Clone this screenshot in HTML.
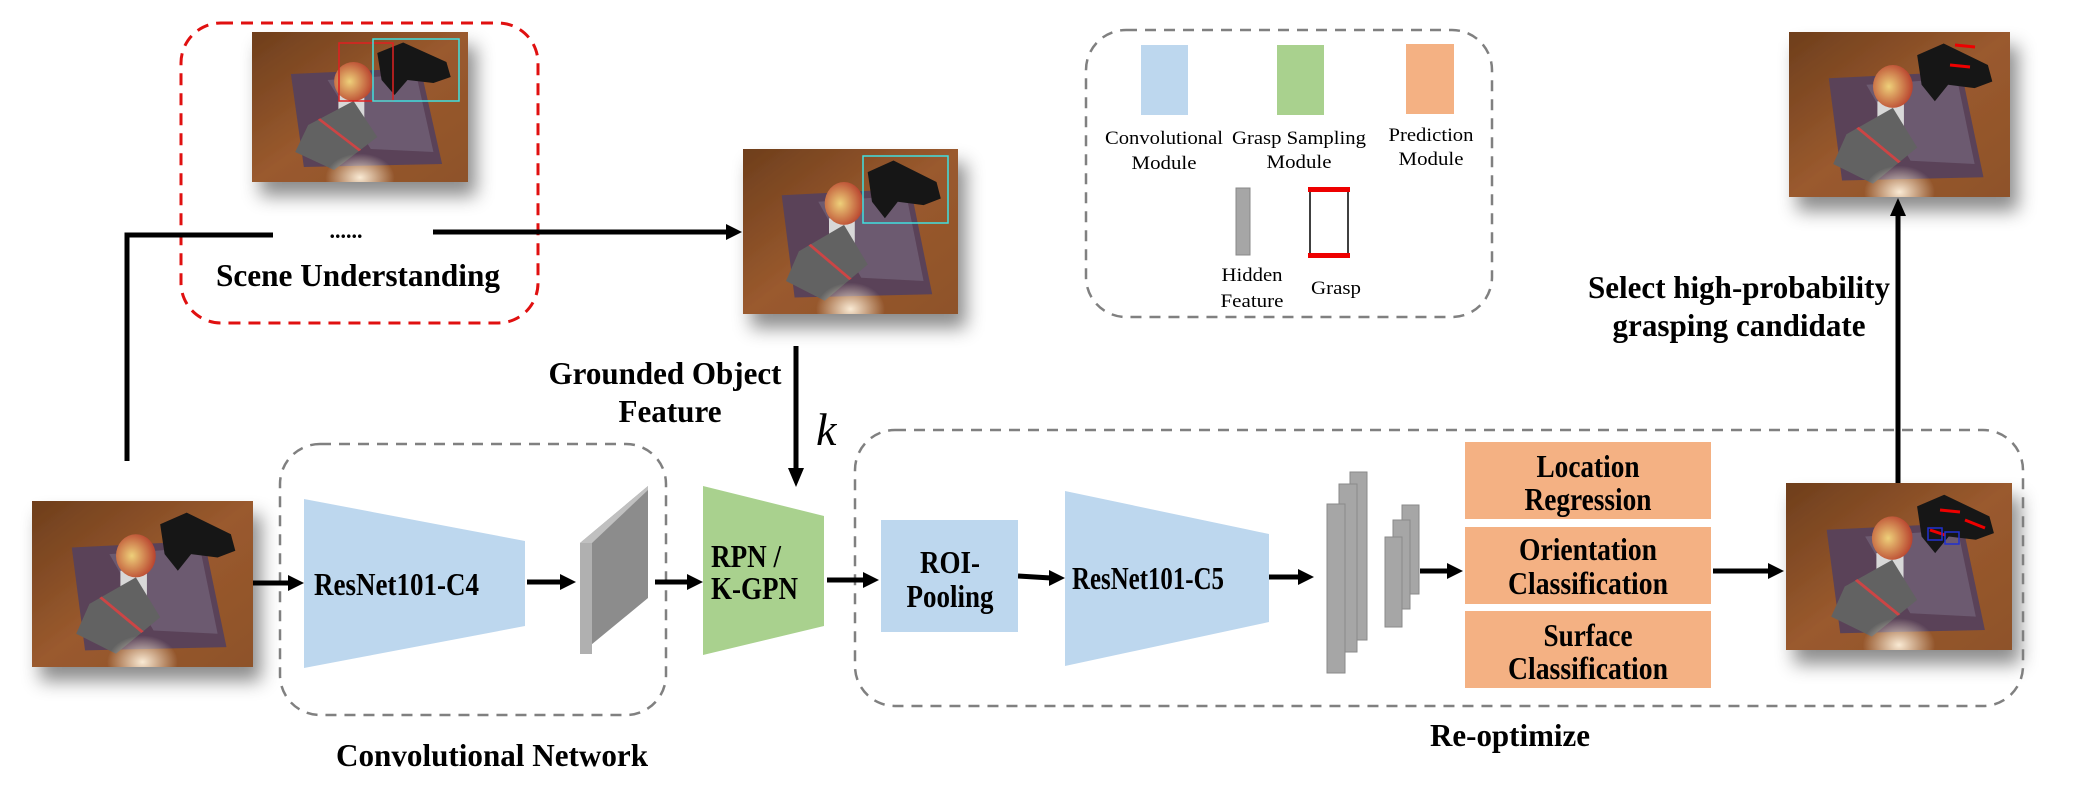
<!DOCTYPE html>
<html><head><meta charset="utf-8"><style>
html,body{margin:0;padding:0;background:#fff}
svg{display:block}
text{font-family:"Liberation Serif",serif}
.b{font-weight:bold;font-size:32px}
.l{font-size:19px}
</style></head><body>
<svg width="2077" height="791" viewBox="0 0 2077 791" xmlns="http://www.w3.org/2000/svg">
<defs>
<linearGradient id="wood" x1="0" y1="0" x2="1" y2="1"><stop offset="0" stop-color="#6e3e1c"/><stop offset="0.5" stop-color="#9a5a2e"/><stop offset="1" stop-color="#8e5229"/></linearGradient>
<radialGradient id="spot" cx="0.5" cy="0.97" r="0.16"><stop offset="0" stop-color="#fff2dd" stop-opacity="0.95"/><stop offset="1" stop-color="#fff2dd" stop-opacity="0"/></radialGradient>
<radialGradient id="apple" cx="0.4" cy="0.5" r="0.6"><stop offset="0" stop-color="#eed07a"/><stop offset="1" stop-color="#b8432e"/></radialGradient>
<filter id="sh" x="-20%" y="-20%" width="150%" height="160%"><feDropShadow dx="8" dy="14" stdDeviation="9" flood-color="#000" flood-opacity="0.45"/></filter>
<symbol id="photo" viewBox="0 0 100 100" preserveAspectRatio="none">
<rect width="100" height="100" fill="url(#wood)"/>
<polygon points="18,28 78,24 88,88 24,90" fill="#5a4258"/>
<polygon points="35,32 76,28 84,80 55,78" fill="#7d7285" opacity="0.5"/>
<rect x="40" y="42" width="12" height="30" fill="#d8d8d8"/>
<ellipse cx="47" cy="33" rx="9" ry="13" fill="url(#apple)"/>
<polygon points="58,14 70,7 90,20 92,30 84,34 72,32 66,42 60,32" fill="#161616"/>
<polygon points="26,62 47,46 58,70 38,92 20,80" fill="#626262"/>
<line x1="31" y1="58" x2="50" y2="79" stroke="#c44" stroke-width="1.5"/>
<rect width="100" height="100" fill="url(#spot)"/>
</symbol>
</defs>

<g filter="url(#sh)">
<use href="#photo" x="252" y="32" width="216" height="150"/>
<use href="#photo" x="743" y="149" width="215" height="165"/>
<use href="#photo" x="32" y="501" width="221" height="166"/>
<use href="#photo" x="1789" y="32" width="221" height="165"/>
<use href="#photo" x="1786" y="483" width="226" height="167"/>
</g>
<rect x="339" y="43" width="54" height="58" fill="none" stroke="#e02020" stroke-width="1.5"/>
<rect x="373" y="39" width="86" height="62" fill="none" stroke="#40e0e0" stroke-width="1.5"/>
<rect x="863" y="156" width="85" height="67" fill="none" stroke="#40e0e0" stroke-width="1.5"/>
<g stroke="#e00" stroke-width="3" fill="none">
<line x1="1955" y1="45" x2="1975" y2="47"/><line x1="1950" y1="65" x2="1970" y2="67"/>
<line x1="1940" y1="510" x2="1960" y2="512"/><line x1="1965" y1="520" x2="1985" y2="528"/><line x1="1930" y1="530" x2="1945" y2="535"/>
</g>
<g stroke="#2030d0" stroke-width="1.5" fill="none"><rect x="1928" y="528" width="14" height="12"/><rect x="1945" y="532" width="14" height="12"/></g>

<rect x="181" y="23" width="357" height="300" rx="40" fill="none" stroke="#e01010" stroke-width="3" stroke-dasharray="12 8"/>
<rect x="280" y="444" width="386" height="271" rx="40" fill="none" stroke="#808080" stroke-width="2.5" stroke-dasharray="11 8"/>
<rect x="855" y="430" width="1168" height="276" rx="40" fill="none" stroke="#808080" stroke-width="2.5" stroke-dasharray="11 8"/>
<rect x="1086" y="30" width="406" height="287" rx="40" fill="none" stroke="#808080" stroke-width="2.5" stroke-dasharray="11 8"/>

<g stroke="#000" stroke-width="5" fill="none">
<polyline points="127,461 127,235 273,235"/>
<line x1="433" y1="232" x2="728" y2="232"/>
<line x1="796" y1="346" x2="796" y2="470"/>
<line x1="1898" y1="483" x2="1898" y2="214"/>
<line x1="253" y1="583" x2="290" y2="583"/>
<line x1="527" y1="582" x2="562" y2="582"/>
<line x1="655" y1="582" x2="689" y2="582"/>
<line x1="827" y1="580" x2="865" y2="580"/>
<line x1="1018" y1="576" x2="1051" y2="578"/>
<line x1="1269" y1="577" x2="1300" y2="577"/>
<line x1="1420" y1="571" x2="1449" y2="571"/>
<line x1="1713" y1="571" x2="1770" y2="571"/>
</g>
<g fill="#000">
<polygon points="742,232 726,224 726,240"/>
<polygon points="796,487 788,468 804,468"/>
<polygon points="1898,198 1890,216 1906,216"/>
<polygon points="304,583 288,575 288,591"/>
<polygon points="576,582 560,574 560,590"/>
<polygon points="703,582 687,574 687,590"/>
<polygon points="879,580 863,572 863,588"/>
<polygon points="1065,578 1049,570 1049,586"/>
<polygon points="1314,577 1298,569 1298,585"/>
<polygon points="1463,571 1447,563 1447,579"/>
<polygon points="1784,571 1768,563 1768,579"/>
</g>
<text x="346" y="238" font-size="22" font-weight="bold" text-anchor="middle">......</text>

<polygon points="304,499 525,541 525,626 304,668" fill="#bdd7ee"/>
<polygon points="580,543 648,486 648,598 580,654" fill="#8c8c8c"/>
<polygon points="580,543 592,543 592,654 580,654" fill="#b0b0b0"/>
<polygon points="580,543 648,486 648,490 592,543" fill="#c0c0c0"/>
<polygon points="703,486 824,516 824,626 703,655" fill="#a9d18e"/>
<rect x="881" y="520" width="137" height="112" fill="#bdd7ee"/>
<polygon points="1065,491 1269,534 1269,622 1065,666" fill="#bdd7ee"/>
<g fill="#a6a6a6" stroke="#8a8a8a" stroke-width="1">
<rect x="1350" y="472" width="17" height="168"/>
<rect x="1339" y="484" width="18" height="168"/>
<rect x="1327" y="504" width="18" height="169"/>
<rect x="1402" y="505" width="17" height="89"/>
<rect x="1393" y="520" width="17" height="89"/>
<rect x="1385" y="537" width="17" height="90"/>
</g>
<rect x="1465" y="442" width="246" height="77" fill="#f4b183"/>
<rect x="1465" y="527" width="246" height="77" fill="#f4b183"/>
<rect x="1465" y="611" width="246" height="77" fill="#f4b183"/>

<rect x="1141" y="45" width="47" height="70" fill="#bdd7ee"/>
<rect x="1277" y="45" width="47" height="70" fill="#a9d18e"/>
<rect x="1406" y="44" width="48" height="70" fill="#f4b183"/>
<rect x="1236" y="188" width="14" height="67" fill="#a6a6a6" stroke="#888" stroke-width="1"/>
<rect x="1310" y="190" width="38" height="65" fill="none" stroke="#000" stroke-width="1.5"/>
<rect x="1308" y="187" width="42" height="5" fill="#e00"/>
<rect x="1308" y="253" width="42" height="5" fill="#e00"/>
<g class="l" text-anchor="middle">
<text x="1164" y="144" textLength="118" lengthAdjust="spacingAndGlyphs">Convolutional</text>
<text x="1164" y="169" textLength="65" lengthAdjust="spacingAndGlyphs">Module</text>
<text x="1299" y="144" textLength="134" lengthAdjust="spacingAndGlyphs">Grasp Sampling</text>
<text x="1299" y="168" textLength="65" lengthAdjust="spacingAndGlyphs">Module</text>
<text x="1431" y="141" textLength="85" lengthAdjust="spacingAndGlyphs">Prediction</text>
<text x="1431" y="165" textLength="65" lengthAdjust="spacingAndGlyphs">Module</text>
<text x="1252" y="281" textLength="61" lengthAdjust="spacingAndGlyphs">Hidden</text>
<text x="1252" y="307" textLength="63" lengthAdjust="spacingAndGlyphs">Feature</text>
<text x="1336" y="294" textLength="50" lengthAdjust="spacingAndGlyphs">Grasp</text>
</g>

<g class="b" text-anchor="middle">
<text x="358" y="286" textLength="284" lengthAdjust="spacingAndGlyphs">Scene Understanding</text>
<text x="665" y="384" textLength="233" lengthAdjust="spacingAndGlyphs">Grounded Object</text>
<text x="670" y="422" textLength="103" lengthAdjust="spacingAndGlyphs">Feature</text>
<text x="492" y="766" textLength="312" lengthAdjust="spacingAndGlyphs">Convolutional Network</text>
<text x="1510" y="746" textLength="160" lengthAdjust="spacingAndGlyphs">Re-optimize</text>
<text x="1739" y="298" textLength="302" lengthAdjust="spacingAndGlyphs">Select high-probability</text>
<text x="1739" y="336" textLength="253" lengthAdjust="spacingAndGlyphs">grasping candidate</text>
<text x="950" y="573" textLength="60" lengthAdjust="spacingAndGlyphs">ROI-</text>
<text x="950" y="607" textLength="87" lengthAdjust="spacingAndGlyphs">Pooling</text>
<text x="1588" y="477" textLength="103" lengthAdjust="spacingAndGlyphs">Location</text>
<text x="1588" y="510" textLength="127" lengthAdjust="spacingAndGlyphs">Regression</text>
<text x="1588" y="560" textLength="138" lengthAdjust="spacingAndGlyphs">Orientation</text>
<text x="1588" y="594" textLength="160" lengthAdjust="spacingAndGlyphs">Classification</text>
<text x="1588" y="646" textLength="89" lengthAdjust="spacingAndGlyphs">Surface</text>
<text x="1588" y="679" textLength="160" lengthAdjust="spacingAndGlyphs">Classification</text>
</g>
<g class="b">
<text x="314" y="595" textLength="165" lengthAdjust="spacingAndGlyphs">ResNet101-C4</text>
<text x="1072" y="589" textLength="152" lengthAdjust="spacingAndGlyphs">ResNet101-C5</text>
<text x="711" y="567" textLength="70" lengthAdjust="spacingAndGlyphs">RPN /</text>
<text x="711" y="599" textLength="87" lengthAdjust="spacingAndGlyphs">K-GPN</text>
</g>
<text x="816" y="445" font-size="46" font-style="italic">k</text>
</svg>
</body></html>
